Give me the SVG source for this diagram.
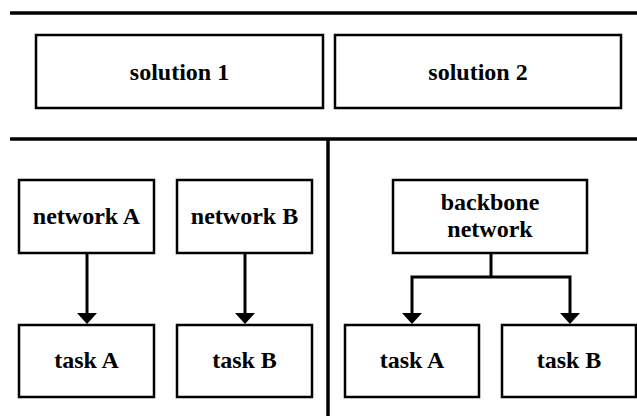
<svg xmlns="http://www.w3.org/2000/svg" width="637" height="416" viewBox="0 0 637 416">
  <style>
    .box { fill: #ffffff; stroke: #000000; stroke-width: 2.5; }
    .rule { stroke: #000000; stroke-width: 3.5; fill: none; }
    .wire { stroke: #000000; stroke-width: 3; fill: none; }
    .label { font-family: "Liberation Serif", "Times New Roman", serif; font-weight: bold; font-size: 24px; fill: #000000; text-anchor: middle; }
  </style>
  <defs>
    <marker id="head" viewBox="0 0 11 20" refX="0" refY="10" markerWidth="11" markerHeight="20" markerUnits="userSpaceOnUse" orient="auto">
      <path d="M0,0 L11,10 L0,20 Z" fill="#000000"/>
    </marker>
  </defs>

  <rect width="637" height="416" fill="#ffffff"/>

  <!-- frame rules -->
  <g id="frame">
    <line class="rule" x1="10" y1="13" x2="637" y2="13"/>
    <line class="rule" x1="10" y1="139" x2="637" y2="139" stroke-width="3"/>
    <line class="rule" x1="328" y1="139" x2="328" y2="416" stroke-width="3"/>
  </g>

  <!-- header cells -->
  <g id="solution1">
    <rect class="box" x="36" y="35" width="287" height="73"/>
    <text class="label" x="179.5" y="79.5">solution 1</text>
  </g>
  <g id="solution2">
    <rect class="box" x="335" y="35" width="286" height="73"/>
    <text class="label" x="478" y="79.5">solution 2</text>
  </g>

  <!-- solution 1: separate networks -->
  <g id="networkA">
    <rect class="box" x="19" y="180" width="135" height="73"/>
    <text class="label" x="86.5" y="224">network A</text>
  </g>
  <g id="networkB">
    <rect class="box" x="177" y="180" width="135" height="73"/>
    <text class="label" x="244.5" y="224">network B</text>
  </g>
  <g id="taskA1">
    <rect class="box" x="19" y="325" width="135" height="72"/>
    <text class="label" x="86.5" y="368">task A</text>
  </g>
  <g id="taskB1">
    <rect class="box" x="177" y="325" width="135" height="72"/>
    <text class="label" x="244.5" y="368">task B</text>
  </g>

  <!-- solution 2: shared backbone -->
  <g id="backbone">
    <rect class="box" x="393" y="180" width="194" height="73"/>
    <text class="label" x="490" y="210">backbone</text>
    <text class="label" x="490" y="237">network</text>
  </g>
  <g id="taskA2">
    <rect class="box" x="345" y="325" width="134" height="72"/>
    <text class="label" x="412" y="368">task A</text>
  </g>
  <g id="taskB2">
    <rect class="box" x="502" y="325" width="134" height="72"/>
    <text class="label" x="569" y="368">task B</text>
  </g>

  <!-- connectors -->
  <g id="connectors">
    <line class="wire" x1="87" y1="253" x2="87" y2="313" marker-end="url(#head)"/>
    <line class="wire" x1="245" y1="253" x2="245" y2="313" marker-end="url(#head)"/>
    <line class="wire" x1="491" y1="253" x2="491" y2="277"/>
    <polyline class="wire" points="491,277 412,277 412,313" marker-end="url(#head)"/>
    <polyline class="wire" points="491,277 570,277 570,313" marker-end="url(#head)"/>
  </g>
</svg>
